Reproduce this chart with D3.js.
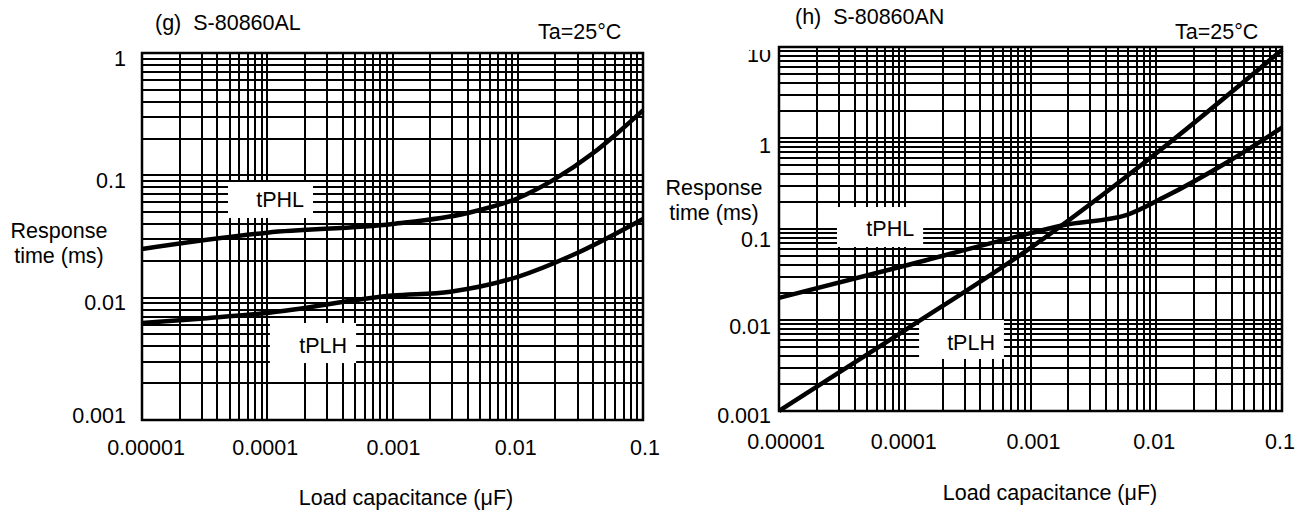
<!DOCTYPE html>
<html><head><meta charset="utf-8">
<script src="https://cdn.jsdelivr.net/npm/d3@7"></script>
<style>
html,body{margin:0;padding:0;background:#fff;}
svg{display:block;font-family:"Liberation Sans",Arial,Helvetica,sans-serif;}
</style></head><body>
<svg id="c" width="1312" height="514"></svg>
<script>
// ---- data ----
const capTicks = [0.00001, 0.0001, 0.001, 0.01, 0.1];
const capTickLabels = ["0.00001", "0.0001", "0.001", "0.01", "0.1"];
const respTicksG = [0.001, 0.01, 0.1, 1];
const respTickLabelsG = ["0.001", "0.01", "0.1", "1"];
const respTicksH = [0.001, 0.01, 0.1, 1, 10];
const respTickLabelsH = ["0.001", "0.01", "0.1", "1", "10"];

// (g) S-80860AL
const gPHLcap = [0.00001, 0.0001, 0.001, 0.0039, 0.01, 0.019, 0.04, 0.062, 0.1];
const gPHLms  = [0.025, 0.034, 0.040, 0.049, 0.065, 0.091, 0.152, 0.22, 0.34];
const gPLHcap = [0.00001, 0.000033, 0.0001, 0.001, 0.0029, 0.01, 0.0275, 0.1];
const gPLHms  = [0.0062, 0.0068, 0.0075, 0.0104, 0.0112, 0.0148, 0.0223, 0.044];

// (h) S-80860AN
const hPHLcap = [0.00001, 0.0001, 0.001, 0.00181, 0.00585, 0.0113, 0.039, 0.1];
const hPHLms  = [0.0175, 0.0395, 0.09, 0.11, 0.143, 0.22, 0.57, 1.3];
const hPLHcap = [0.00001, 0.0001, 0.001, 0.01, 0.1];
const hPLHms  = [0.001, 0.0077, 0.062, 0.68, 9.3];

// label boxes (data coords: [x0, x1, yTop, yBottom])
const gLabelNames = ["tPHL", "tPLH"];
const gLabelBoxes = [[4.86e-5, 2.32e-4, 0.0882, 0.0448], [1.05e-4, 5.12e-4, 0.00621, 0.00292]];
const hLabelNames = ["tPHL", "tPLH"];
const hLabelBoxes = [[2.89e-5, 1.40e-4, 0.1746, 0.0634], [1.30e-4, 6.15e-4, 0.01, 0.00373]];

// ---- layout ----
const charts = [
  {
    plot: {left: 142, right: 643, top: 53, bottom: 420},
    yDomain: [0.001, 1], yTicks: respTicksG, yTickLabels: respTickLabelsG,
    yTickX: 126, yTickDy: [3, 12, 13, 13],
    xTickY: 455, xTickDx: [4, -2, 1, -2, 2],
    title: "(g)  S-80860AL", titleX: 155, titleY: 30,
    taX: 538, taY: 39,
    yTitleX: 59, yTitleY: [238, 263],
    xTitleX: 406, xTitleY: 505,
    series: [[gPHLcap, gPHLms], [gPLHcap, gPLHms]],
    labels: gLabelNames, boxes: gLabelBoxes, labelBaseDy: [10, 13],
    clipTop: null
  },
  {
    plot: {left: 779, right: 1282, top: 47, bottom: 411},
    yDomain: [0.001, 10], yTicks: respTicksH, yTickLabels: respTickLabelsH,
    yTickX: 771, yTickDy: [12, 14, 18, 15, 15],
    xTickY: 449, xTickDx: [7, -1, 3, -2, -2],
    title: "(h)  S-80860AN", titleX: 795, titleY: 24,
    taX: 1175, taY: 39,
    yTitleX: 714, yTitleY: [195, 220],
    xTitleX: 1050, xTitleY: 500,
    series: [[hPHLcap, hPHLms], [hPLHcap, hPLHms]],
    labels: hLabelNames, boxes: hLabelBoxes, labelBaseDy: [12, 14],
    clipTop: 50
  }
];

const svg = d3.select("#c");
const FS = 21.5;

charts.forEach((c, ci) => {
  const p = c.plot;
  const x = d3.scaleLog().domain([0.00001, 0.1]).range([p.left, p.right]);
  const y = d3.scaleLog().domain(c.yDomain).range([p.bottom, p.top]);
  const g = svg.append("g");

  // grid values
  const xs = [], ys = [];
  for (let e = -5; e < -1; e++) for (let m = 1; m <= 9; m++) xs.push(m * Math.pow(10, e));
  xs.push(0.1);
  const ey0 = Math.round(Math.log10(c.yDomain[0])), ey1 = Math.round(Math.log10(c.yDomain[1]));
  for (let e = ey0; e < ey1; e++) for (let m = 1; m <= 9; m++) ys.push(m * Math.pow(10, e));
  ys.push(c.yDomain[1]);

  const r = v => Math.round(v);
  g.append("g").attr("shape-rendering", "crispEdges").selectAll("line").data(xs).join("line")
    .attr("x1", d => r(x(d))).attr("x2", d => r(x(d)))
    .attr("y1", p.top).attr("y2", p.bottom)
    .attr("stroke", "#000").attr("stroke-width", 2);
  g.append("g").attr("shape-rendering", "crispEdges").selectAll("line").data(ys).join("line")
    .attr("x1", p.left).attr("x2", p.right)
    .attr("y1", d => r(y(d))).attr("y2", d => r(y(d)))
    .attr("stroke", "#000").attr("stroke-width", 2);

  // label boxes
  c.boxes.forEach((b, i) => {
    const bx0 = x(b[0]), bx1 = x(b[1]), by0 = y(b[2]), by1 = y(b[3]);
    g.append("rect").attr("x", bx0).attr("y", by0)
      .attr("width", bx1 - bx0).attr("height", by1 - by0).attr("fill", "#fff");
    g.append("text").attr("x", bx1 - 9).attr("y", by0 + (by1 - by0) / 2 + c.labelBaseDy[i] - 3)
      .attr("text-anchor", "end").attr("font-size", FS).attr("fill", "#000")
      .text(c.labels[i]);
  });

  // curves
  const line = d3.line().x(d => x(d[0])).y(d => y(d[1])).curve(d3.curveMonotoneX);
  c.series.forEach(s => {
    const pts = s[0].map((v, i) => [v, s[1][i]]);
    g.append("path").attr("d", line(pts)).attr("fill", "none")
      .attr("stroke", "#000").attr("stroke-width", 4.5).attr("stroke-linejoin", "round");
  });

  // border
  g.append("rect").attr("x", p.left).attr("y", p.top)
    .attr("width", p.right - p.left).attr("height", p.bottom - p.top)
    .attr("fill", "none").attr("stroke", "#000").attr("stroke-width", 2.5);

  // clip for y tick labels
  let clipId = null;
  if (c.clipTop != null) {
    clipId = "clip" + ci;
    svg.append("defs").append("clipPath").attr("id", clipId)
      .append("rect").attr("x", 0).attr("y", c.clipTop).attr("width", 1312).attr("height", 514);
  }
  const yl = g.append("g");
  if (clipId) yl.attr("clip-path", `url(#${clipId})`);
  yl.selectAll("text").data(c.yTicks).join("text")
    .attr("x", c.yTickX).attr("y", (d, i) => y(d) + c.yTickDy[i])
    .attr("text-anchor", "end").attr("font-size", FS).attr("fill", "#000")
    .text((d, i) => c.yTickLabels[i]);

  g.append("g").selectAll("text").data(capTicks).join("text")
    .attr("x", (d, i) => x(d) + c.xTickDx[i]).attr("y", c.xTickY)
    .attr("text-anchor", "middle").attr("font-size", FS).attr("fill", "#000")
    .text((d, i) => capTickLabels[i]);

  // titles
  g.append("text").attr("x", c.titleX).attr("y", c.titleY).attr("font-size", FS)
    .style("white-space", "pre").attr("xml:space", "preserve").text(c.title);
  g.append("text").attr("x", c.taX).attr("y", c.taY).attr("font-size", FS).text("Ta=25°C");
  g.append("text").attr("x", c.yTitleX).attr("y", c.yTitleY[0]).attr("font-size", FS)
    .attr("text-anchor", "middle").text("Response");
  g.append("text").attr("x", c.yTitleX).attr("y", c.yTitleY[1]).attr("font-size", FS)
    .attr("text-anchor", "middle").text("time (ms)");
  g.append("text").attr("x", c.xTitleX).attr("y", c.xTitleY).attr("font-size", FS)
    .attr("text-anchor", "middle").text("Load capacitance (μF)");
});
</script>
</body></html>
